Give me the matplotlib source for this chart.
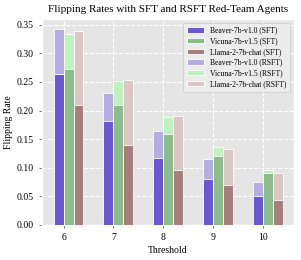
import numpy as np
import matplotlib.pyplot as plt

plt.style.use("ggplot")
plt.rcParams["font.family"] = ["Liberation Serif", "DejaVu Serif"]

thresholds = [6, 7, 8, 9, 10]
beaver_sft = [0.263, 0.181, 0.117, 0.080, 0.050]
vicuna_sft = [0.273, 0.209, 0.159, 0.120, 0.091]
llama_sft = [0.210, 0.139, 0.096, 0.070, 0.044]
beaver_rsft = [0.342, 0.230, 0.165, 0.115, 0.075]
vicuna_rsft = [0.333, 0.251, 0.188, 0.136, 0.096]
llama_rsft = [0.339, 0.253, 0.191, 0.132, 0.090]

x = np.array(thresholds)
w = 0.2

fig = plt.figure(figsize=(3.01, 2.60), dpi=100)
ax = fig.add_axes([0.14, 0.135, 0.837, 0.792])
ax.set_facecolor("#e5e5e5")

kw = dict(width=w, align="edge", edgecolor="white", linewidth=0.6)
ax.bar(x - w, beaver_sft, color="#6a58cf", label="Beaver-7b-v1.0 (SFT)", zorder=3, **kw)
ax.bar(x, vicuna_sft, color="#8cbc8c", label="Vicuna-7b-v1.5 (SFT)", zorder=3, **kw)
ax.bar(x + w, llama_sft, color="#a67e7e", label="Llama-2-7b-chat (SFT)", zorder=3, **kw)
ax.bar(x - w, beaver_rsft, color="#b4ade2", label="Beaver-7b-v1.0 (RSFT)", zorder=2, **kw)
ax.bar(x, vicuna_rsft, color="#bff2bf", label="Vicuna-7b-v1.5 (RSFT)", zorder=2, **kw)
ax.bar(x + w, llama_rsft, color="#dbc6c6", label="Llama-2-7b-chat (RSFT)", zorder=2, **kw)

ax.set_xticks(thresholds)
ax.set_ylim(0, 0.36)
ax.set_yticks(np.arange(0, 0.36, 0.05))
ax.grid(True, color="white", linestyle="--", linewidth=0.8, zorder=0)
ax.set_axisbelow(True)
ax.tick_params(labelsize=7, colors="#555555", labelcolor="black", length=2.5, width=0.6)
ax.set_xlabel("Threshold", fontsize=7, color="black", labelpad=3)
ax.set_ylabel("Flipping Rate", fontsize=7, color="black", labelpad=3)
ax.set_title("Flipping Rates with SFT and RSFT Red-Team Agents", fontsize=8, pad=5)

ax.legend(loc="upper right", fontsize=5.5, facecolor="#ececec", edgecolor="#cccccc",
          framealpha=1, handlelength=2.2, borderpad=0.5, labelspacing=0.35)

fig.savefig("out.png", dpi=100)
